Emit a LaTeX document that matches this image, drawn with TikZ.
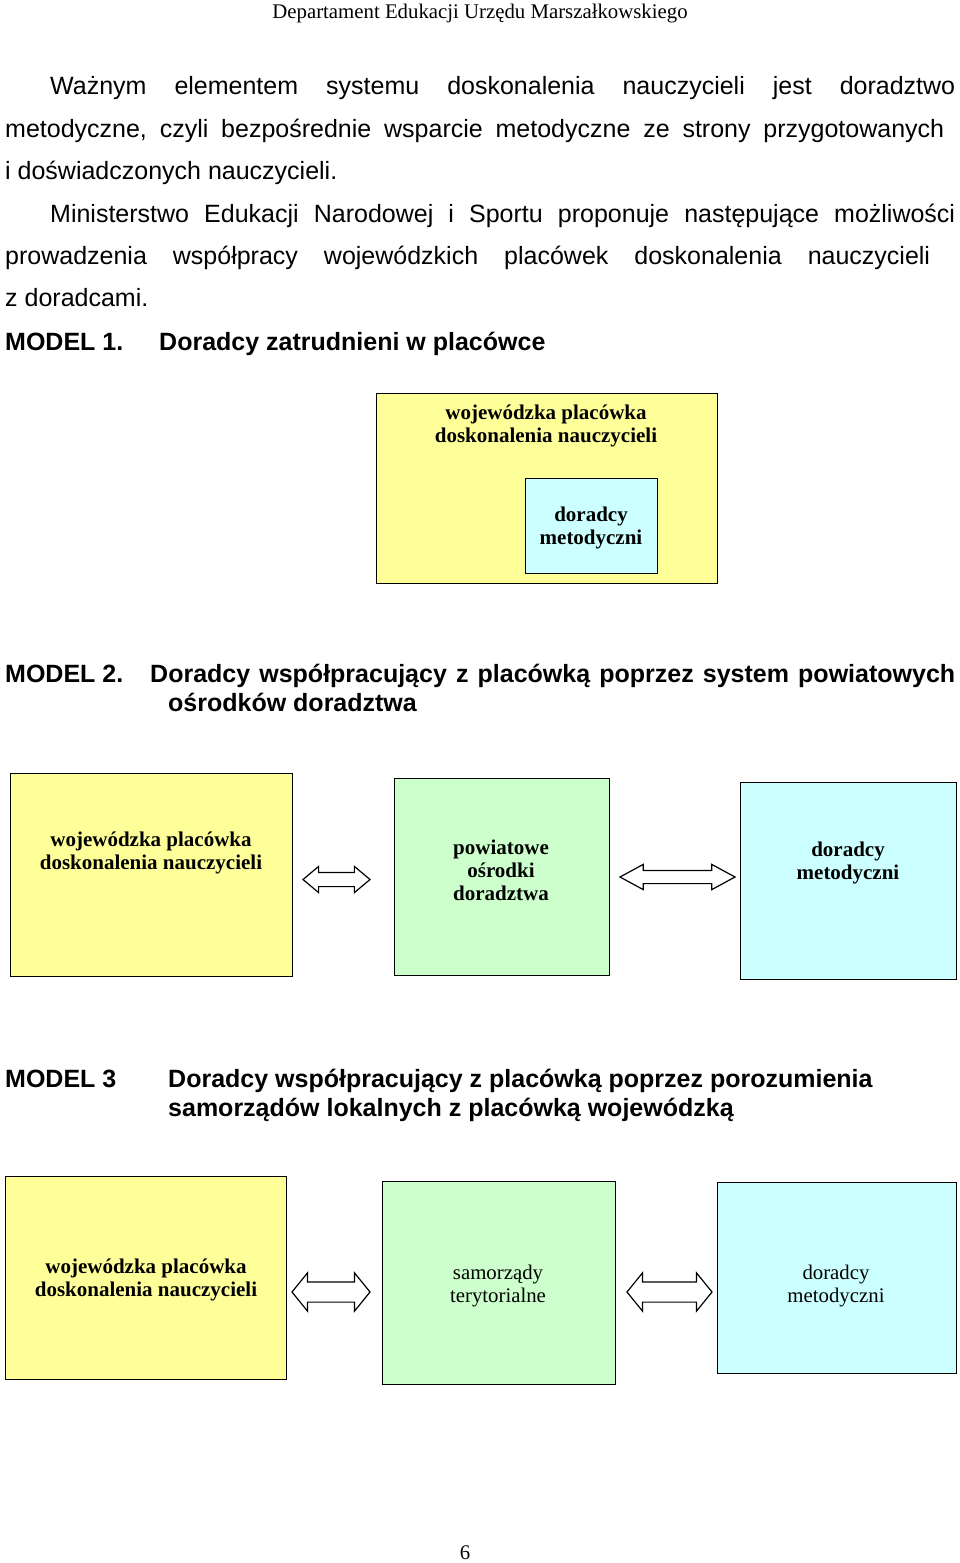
\documentclass[tikz,border=0pt]{standalone}
\usepackage{fontspec}
\setmainfont{Liberation Sans}
\newfontfamily\serifx{Liberation Serif}
\usetikzlibrary{shapes.arrows}
\definecolor{boxyellow}{HTML}{FFFF99}
\definecolor{boxgreen}{HTML}{CCFFCC}
\definecolor{boxcyan}{HTML}{CCFFFF}
\begin{document}
\begin{tikzpicture}[x=1pt,y=-1pt,
 body/.style={anchor=base west, inner sep=0, font=\fontsize{25}{30}\selectfont},
 headx/.style={anchor=base west, inner sep=0, font=\fontsize{25}{30}\selectfont\bfseries},
 box/.style={draw=black, line width=1.4pt, anchor=north west, inner sep=0},
 yel/.style={box, fill=boxyellow},
 grn/.style={box, fill=boxgreen},
 cyn/.style={box, fill=boxcyan},
 btxt/.style={align=center, inner sep=0, font=\serifx\bfseries\fontsize{21}{23}\selectfont},
 rtxt/.style={align=center, inner sep=0, font=\serifx\fontsize{20.8}{23}\selectfont},
 dbl/.style={shape=double arrow, draw=black, line width=1.2pt, fill=white, inner xsep=0, minimum width=0}
]
\useasboundingbox[fill=white] (0,0) rectangle (960,1563);

% header and page number
\node[anchor=base, inner sep=0, font=\serifx\fontsize{20.8}{24}\selectfont] (hdr) at (480,19) {Departament Edukacji Urzędu Marszałkowskiego};
\node[anchor=base, inner sep=0, font=\serifx\fontsize{20.8}{24}\selectfont] (pg) at (465,1559) {6};

% body text
\node[body] (l1) at (50,95) {\hbox to 905pt{Ważnym\hfill elementem\hfill systemu\hfill doskonalenia\hfill nauczycieli\hfill jest\hfill doradztwo}};
\node[body] (l2) at (5,137) {\hbox to 939pt{metodyczne,\hfill czyli\hfill bezpośrednie\hfill wsparcie\hfill metodyczne\hfill ze\hfill strony\hfill przygotowanych}};
\node[body] (l3) at (5,179) {i doświadczonych nauczycieli.};
\node[body] (l4) at (50,222) {\hbox to 905pt{Ministerstwo\hfill Edukacji\hfill Narodowej\hfill i\hfill Sportu\hfill proponuje\hfill następujące\hfill możliwości}};
\node[body] (l5) at (5,264) {\hbox to 925pt{prowadzenia\hfill współpracy\hfill wojewódzkich\hfill placówek\hfill doskonalenia\hfill nauczycieli}};
\node[body] (l6) at (5,306) {z doradcami.};

% MODEL 1
\node[headx] (m1h) at (5,350) {MODEL 1.};
\node[headx] (m1t) at (159,350) {Doradcy zatrudnieni w placówce};
\node[yel, minimum width=341, minimum height=190] (m1a) at (376,393) {};
\node[cyn, minimum width=132, minimum height=95] (m1b) at (525,478) {};
\node[btxt] (m1at) at (546,426) {wojewódzka placówka\\doskonalenia nauczycieli};
\node[btxt] (m1bt) at (591,528) {doradcy\\metodyczni};

% MODEL 2
\node[headx] (m2h) at (5,682) {MODEL 2.};
\node[headx] (m2t1) at (150,682) {\hbox to 805pt{Doradcy\hfill współpracujący\hfill z\hfill placówką\hfill poprzez\hfill system\hfill powiatowych}};
\node[headx] (m2t2) at (168,711) {ośrodków doradztwa};
\node[yel, minimum width=282, minimum height=203] (m2a) at (10,773) {};
\node[grn, minimum width=215, minimum height=197] (m2b) at (394,778) {};
\node[cyn, minimum width=216, minimum height=197] (m2c) at (740,782) {};
\node[btxt] (m2at) at (151,853) {wojewódzka placówka\\doskonalenia nauczycieli};
\node[btxt] (m2bt) at (501,870) {powiatowe\\ośrodki\\doradztwa};
\node[btxt] (m2ct) at (848,863) {doradcy\\metodyczni};
\node[dbl, minimum height=67, inner ysep=6.5pt, double arrow head extend=6, double arrow tip angle=80] (a2l) at (336.5,879.5) {};
\node[dbl, minimum height=115, inner ysep=6pt, double arrow head extend=6, double arrow tip angle=57] (a2r) at (677.5,877) {};

% MODEL 3
\node[headx] (m3h) at (5,1087) {MODEL 3};
\node[headx] (m3t1) at (168,1087) {Doradcy współpracujący z placówką poprzez porozumienia};
\node[headx] (m3t2) at (168,1116) {samorządów lokalnych z placówką wojewódzką};
\node[yel, minimum width=281, minimum height=203] (m3a) at (5,1176) {};
\node[grn, minimum width=233, minimum height=203] (m3b) at (382,1181) {};
\node[cyn, minimum width=239, minimum height=191] (m3c) at (717,1182) {};
\node[btxt] (m3at) at (146,1280) {wojewódzka placówka\\doskonalenia nauczycieli};
\node[rtxt] (m3bt) at (498,1286) {samorządy\\terytorialne};
\node[rtxt] (m3ct) at (836,1286) {doradcy\\metodyczni};
\node[dbl, minimum height=78, inner ysep=9.5pt, double arrow head extend=9, double arrow tip angle=102] (a3l) at (331,1292) {};
\node[dbl, minimum height=85, inner ysep=9.5pt, double arrow head extend=9, double arrow tip angle=102] (a3r) at (669.5,1292) {};
\end{tikzpicture}
\end{document}
